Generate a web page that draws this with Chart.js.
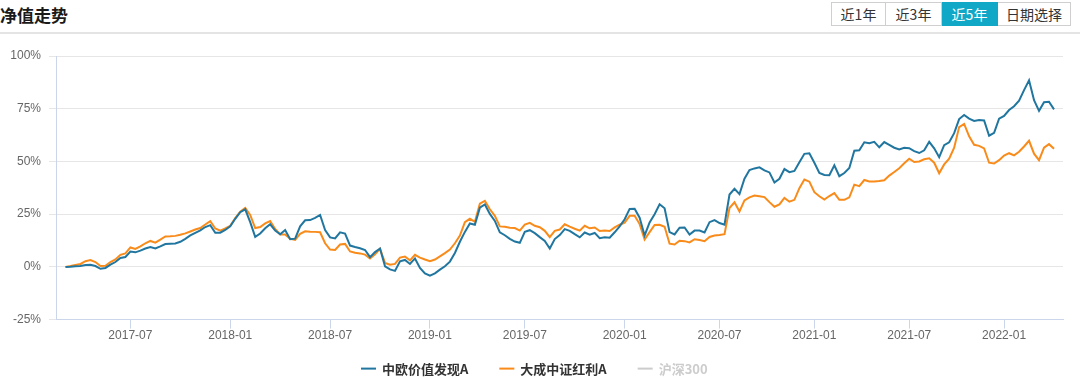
<!DOCTYPE html>
<html>
<head>
<meta charset="utf-8">
<title>净值走势</title>
<script src="https://cdn.jsdelivr.net/npm/chart.js"></script>
<style>
    html, body { margin: 0; padding: 0; background: #fff; overflow: hidden; }
    body { width: 1080px; height: 379px; position: relative; font-family: "Noto Sans CJK SC", "Liberation Sans", sans-serif; }
    .title { position: absolute; left: 0; top: 3px; font-size: 17px; font-weight: bold; color: #1a1a1a; line-height: 24px; }
    .divider { position: absolute; left: 0; top: 32px; width: 1080px; height: 2px; background: #e4e4e4; }
    .btns { position: absolute; left: 831px; top: 2px; display: flex; }
    .btns div { box-sizing: border-box; height: 24px; line-height: 22px; border: 1px solid #cfcfcf; border-left: none; text-align: center; font-size: 14px; color: #333; background: #fff; }
    .btns div:first-child { border-left: 1px solid #cfcfcf; }
    .btns div.on { background: #10a8c6; border-color: #10a8c6; color: #fff; }
    #chartNav { position: absolute; left: 0; top: 34px; }
</style>
</head>
<body>
<div class="title">净值走势</div>
<div class="btns">
    <div style="width:55px">近1年</div>
    <div style="width:56px">近3年</div>
    <div class="on" style="width:56px">近5年</div>
    <div style="width:73px">日期选择</div>
</div>
<div class="divider"></div>
<canvas id="chartNav" width="1080" height="345"></canvas>
<script>
// weekly index on the x axis, labels only at half-year marks
var tickIdx = [13, 33, 53, 73, 92, 112, 131, 150, 169, 188];
var tickLabels = ["2017-07", "2018-01", "2018-07", "2019-01", "2019-07", "2020-01", "2020-07", "2021-01", "2021-07", "2022-01"];

var seriesNames = ["中欧价值发现A", "大成中证红利A", "沪深300"];
var seriesColors = ["#21769f", "#f98b1a", "#cccccc"];

// cumulative return, %
var zoValues = [
    0, 0.1, 0.3, 0.4, 0.9, 1.0, 0.4, -0.9, -0.5, 1.1,
    2.3, 4.2, 4.7, 7.3, 6.9, 7.7, 8.7, 9.4, 8.7, 9.7,
    10.8, 11.0, 11.1, 11.9, 13.3, 14.9, 16.1, 17.3, 18.9, 19.8,
    16.2, 16.2, 17.5, 19.2, 22.8, 25.9, 27.3, 21.2, 14.2, 15.8,
    18.3, 20.2, 17.2, 15.5, 17.5, 13.1, 13.4, 19.2, 22.1, 22.2,
    23.2, 24.6, 17.5, 14.0, 13.5, 16.4, 15.8, 10.1, 9.4, 8.8,
    8.0, 4.6, 7.0, 8.7, 0.3, -1.2, -1.9, 2.6, 3.3, 1.4,
    4.0, -0.5, -3.1, -4.2, -3.1, -1.3, 0.3, 2.5, 6.6, 11.9,
    16.6, 20.6, 20.0, 28.1, 29.6, 25.1, 21.8, 16.4, 15.0, 13.3,
    12.0, 11.4, 16.6, 17.4, 16.0, 14.1, 12.3, 8.7, 13.2, 15.1,
    17.9, 17.1, 15.5, 14.0, 16.3, 15.3, 16.1, 13.6, 14.0, 13.8,
    16.4, 19.2, 22.6, 27.5, 27.6, 23.3, 14.9, 21.1, 25.0, 29.7,
    27.8, 16.5, 15.4, 18.6, 18.7, 15.3, 17.2, 17.2, 16.3, 21.2,
    22.2, 20.8, 20.0, 34.3, 37.0, 34.5, 41.8, 45.9, 46.7, 47.2,
    45.8, 44.8, 40.0, 41.8, 46.4, 44.9, 45.5, 49.6, 53.6, 53.9,
    49.4, 44.5, 43.6, 43.5, 48.2, 43.0, 44.5, 46.9, 55.1, 55.3,
    59.1, 58.6, 59.3, 56.7, 59.2, 57.9, 56.5, 55.7, 56.5, 56.3,
    54.9, 54.0, 55.3, 59.3, 56.2, 52.0, 57.7, 59.1, 63.4, 70.1,
    72.0, 70.3, 69.2, 69.7, 69.4, 62.2, 63.6, 70.3, 71.6, 74.4,
    76.2, 78.8, 83.8, 88.5, 79.0, 74.0, 78.1, 78.3, 74.7
];
var dcValues = [
    0, 0.4, 0.9, 1.4, 2.7, 3.2, 2.3, 0.4, 0.5, 2.3,
    3.5, 5.7, 6.4, 9.2, 8.5, 9.7, 11.2, 12.3, 11.5, 12.9,
    14.4, 14.5, 14.7, 15.2, 15.9, 16.8, 17.7, 18.4, 20.1, 21.7,
    18.2, 17.2, 18.2, 19.5, 23.1, 26.2, 28.0, 24.6, 18.4, 18.9,
    20.6, 21.7, 18.0, 15.4, 15.4, 13.3, 12.8, 15.7, 16.9, 16.7,
    16.6, 16.4, 11.2, 8.2, 8.0, 10.6, 10.9, 7.3, 6.7, 6.4,
    5.8, 4.0, 6.0, 8.6, 1.9, 1.0, 1.4, 4.4, 4.9, 3.1,
    5.7, 4.4, 3.5, 2.7, 3.5, 5.0, 6.5, 8.2, 11.2, 14.8,
    21.2, 22.8, 21.4, 30.0, 31.3, 27.3, 24.2, 19.2, 19.0, 18.6,
    18.4, 17.2, 20.1, 20.9, 19.5, 18.8, 17.1, 14.1, 17.1, 17.7,
    20.2, 19.1, 18.1, 17.2, 19.5, 18.3, 18.7, 17.0, 17.2, 17.0,
    18.7, 20.0, 21.0, 24.2, 24.2, 20.3, 13.0, 16.5, 19.9, 20.0,
    19.0, 11.0, 10.6, 12.4, 12.2, 11.6, 13.1, 12.7, 12.2, 14.2,
    14.9, 15.1, 15.5, 27.9, 30.6, 26.3, 31.5, 33.0, 33.8, 33.5,
    33.1, 30.7, 28.5, 29.6, 32.7, 30.9, 31.8, 37.3, 41.4, 40.4,
    35.4, 33.5, 31.9, 33.6, 35.0, 31.8, 31.8, 33.0, 39.0, 38.3,
    41.2, 40.5, 40.5, 40.7, 41.1, 43.3, 45.0, 46.8, 49.1, 51.3,
    49.7, 50.0, 51.0, 51.5, 49.4, 44.4, 48.6, 51.3, 56.5, 66.3,
    67.8, 61.9, 57.9, 57.4, 56.2, 49.4, 49.0, 50.6, 52.8, 53.9,
    52.9, 54.6, 57.1, 59.8, 53.7, 50.6, 56.5, 58.2, 56.0
];
var hs300Values = []; // series switched off in the legend

function toPoints(values) {
    var pts = [];
    for (var i = 0; i < values.length; i++) {
        pts.push({ x: i, y: values[i] });
    }
    return pts;
}

function makeDataset(i, values) {
    return {
        label: seriesNames[i],
        data: toPoints(values),
        borderColor: seriesColors[i],
        backgroundColor: seriesColors[i],
        borderWidth: 2,
        pointRadius: 0,
        tension: 0,
        hidden: values.length === 0
    };
}

// legend row under the axis: short line + bold name, greyed when switched off
var bottomLegend = {
    id: "bottomLegend",
    afterDraw: function (chart) {
        var ctx = chart.ctx;
        var sets = chart.data.datasets;
        var gap = 31;
        ctx.save();
        ctx.font = 'bold 13px "Noto Sans CJK SC", sans-serif';
        ctx.textBaseline = "middle";
        var widths = sets.map(function (ds) { return 15 + 6 + ctx.measureText(ds.label).width; });
        var total = widths.reduce(function (a, b) { return a + b; }, 0) + gap * (sets.length - 1);
        var x = Math.round(chart.width / 2 - 5.5 - total / 2);
        var y = chart.chartArea.bottom + 49;
        sets.forEach(function (ds, i) {
            ctx.fillStyle = ds.borderColor;
            ctx.fillRect(x, y - 1, 15, 2);
            ctx.fillStyle = ds.hidden ? "#cccccc" : "#333333";
            ctx.fillText(ds.label, x + 21, y);
            x += widths[i] + gap;
        });
        ctx.restore();
    }
};

function drawChart() {
    var tickFont = { family: '"Liberation Sans", Arial, sans-serif', size: 12 };
    var ctx = document.getElementById("chartNav");

    new Chart(ctx, {
        type: "line",
        data: {
            datasets: [
                makeDataset(0, zoValues),
                makeDataset(1, dcValues),
                makeDataset(2, hs300Values)
            ]
        },
        options: {
            responsive: false,
            animation: false,
            devicePixelRatio: 1,
            layout: { padding: { top: 22, right: 17, left: 0, bottom: 36 } },
            scales: {
                x: {
                    type: "linear",
                    min: -1.9,
                    max: 199.8,
                    afterBuildTicks: function (scale) {
                        scale.ticks = tickIdx.map(function (v) { return { value: v }; });
                    },
                    ticks: {
                        autoSkip: false,
                        maxRotation: 0,
                        padding: 0,
                        color: "#666",
                        font: tickFont,
                        callback: function (v, i) { return tickLabels[i]; }
                    },
                    grid: { drawOnChartArea: false, tickLength: 9, tickColor: "#ccd6eb" },
                    border: { color: "#ccd6eb", width: 1 }
                },
                y: {
                    min: -25,
                    max: 100,
                    afterFit: function (scale) { scale.width = 56; },
                    ticks: {
                        stepSize: 25,
                        padding: 8,
                        color: "#666",
                        font: tickFont,
                        callback: function (v) { return v + "%"; }
                    },
                    grid: { color: "#e6e6e6", tickLength: 7 },
                    border: { color: "#ccd6eb", width: 1 }
                }
            },
            plugins: {
                tooltip: { enabled: false },
                legend: { display: false }
            }
        },
        plugins: [bottomLegend]
    });
}

drawChart();
</script>
</body>
</html>
